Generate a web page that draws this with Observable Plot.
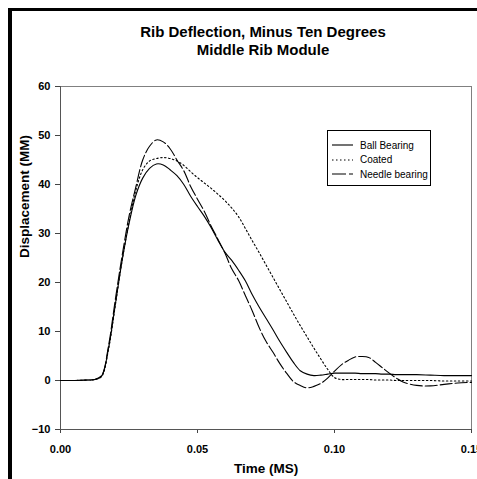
<!DOCTYPE html>
<html>
<head>
<meta charset="utf-8">
<script src="https://cdn.jsdelivr.net/npm/d3@7"></script>
<script src="https://cdn.jsdelivr.net/npm/@observablehq/plot@0.6"></script>
<style>
  html, body { margin: 0; padding: 0; background: #fff; }
  #wrap { position: relative; width: 477px; height: 479px; overflow: hidden; background: #fff; }
  #border { position: absolute; left: 8px; top: 8px; width: 480px; height: 480px; border-left: 4px solid #000; border-top: 3px solid #000; box-sizing: border-box; pointer-events: none; }
  #legend { position: absolute; left: 327px; top: 130px; width: 104px; height: 56px; border: 1px solid #000; box-sizing: border-box; background: #fff; font-family: "Liberation Sans", Arial, sans-serif; font-size: 10px; }
  #legend .row { position: absolute; left: 4px; height: 12px; display: flex; align-items: center; }
  #legend .row svg { display: block; margin-right: 7px; }
  svg { overflow: visible; }
</style>
</head>
<body>
<div id="wrap">
  <div id="chart"></div>
  <div id="legend"></div>
  <div id="border"></div>
</div>
<script>
const titleLines = ["Rib Deflection, Minus Ten Degrees", "Middle Rib Module"];
const xLabel = "Time (MS)";
const yLabel = "Displacement (MM)";
const seriesNames = ["Ball Bearing", "Coated", "Needle bearing"];
const seriesDash = ["none", "1.5,2.5", "12,3"];
const xTicks = [0, 0.05, 0.10, 0.15];
const yTicks = [-10, 0, 10, 20, 30, 40, 50, 60];

const time = [0, 0.005, 0.01, 0.0125, 0.015, 0.0175, 0.02, 0.0225, 0.025, 0.0275,
  0.03, 0.0325, 0.035, 0.0375, 0.04, 0.0425, 0.045, 0.0475, 0.05, 0.0525,
  0.055, 0.0575, 0.06, 0.0625, 0.065, 0.0675, 0.07, 0.0725, 0.075, 0.0775,
  0.08, 0.0825, 0.085, 0.0875, 0.09, 0.0925, 0.095, 0.0975, 0.1, 0.1025,
  0.105, 0.1075, 0.11, 0.1125, 0.115, 0.1175, 0.12, 0.1225, 0.125, 0.13,
  0.135, 0.14, 0.145, 0.15];

const ballBearing = [0, 0, 0.1, 0.2, 0.9, 6.5, 15.5, 24.5, 32.0, 37.8,
  41.3, 43.3, 44.2, 44.0, 43.0, 41.8, 40.0, 37.6, 35.5, 33.5,
  31.2, 28.6, 26.2, 24.5, 22.5, 20.3, 17.5, 15.0, 12.7, 10.4,
  8.0, 5.8, 3.7, 2.0, 1.3, 1.0, 1.1, 1.3, 1.5, 1.5,
  1.5, 1.5, 1.4, 1.4, 1.4, 1.3, 1.3, 1.2, 1.2, 1.2,
  1.1, 1.0, 1.0, 1.0];

const coated = [0, 0, 0.1, 0.2, 0.8, 6.3, 15.3, 24.5, 32.3, 38.8,
  43.0, 44.8, 45.3, 45.5, 45.3, 44.8, 43.9, 42.6, 41.4, 40.3,
  39.2, 38.0, 36.7, 35.2, 33.4, 31.0, 28.5, 26.1, 23.6, 21.1,
  18.6, 16.1, 13.6, 11.2, 8.9, 6.6, 4.4, 2.3, 0.6, 0.2,
  0.2, 0.2, 0.2, 0.2, 0.1, 0.1, 0.1, 0.0, 0.0, 0.0,
  0.0, -0.1, -0.1, -0.1];

const needleBearing = [0, 0, 0.1, 0.2, 1.0, 7.0, 16.5, 25.5, 33.5, 39.5,
  45.0, 47.8, 49.1, 48.7, 47.3, 45.0, 42.8, 39.6, 37.0, 34.5,
  31.5, 28.8, 26.0, 22.8, 20.4, 17.3, 14.2, 10.8, 8.0, 5.8,
  3.5, 1.5, -0.2, -1.0, -1.5, -1.2, -0.6, 0.5, 1.9, 3.2,
  4.1, 4.8, 4.9, 4.7, 3.7, 2.6, 1.5, 0.5, -0.3, -1.0,
  -1.1, -0.8, -0.5, -0.4];

const seriesValues = [ballBearing, coated, needleBearing];
const rows = seriesValues.map((vals, k) => time.map((t, i) => ({t, v: vals[i], s: seriesNames[k]})));

const font = '"Liberation Sans", Arial, sans-serif';

const chart = Plot.plot({
  width: 477,
  height: 479,
  marginTop: 86,
  marginLeft: 60,
  marginRight: 6,
  marginBottom: 50,
  style: {fontFamily: font, fontSize: "11px", fontWeight: "bold", background: "#fff", color: "#000"},
  x: {domain: [0, 0.15]},
  y: {domain: [-10, 60]},
  marks: [
    Plot.frame({stroke: "#808080", strokeWidth: 1}),
    Plot.axisX({ticks: xTicks, tickFormat: d3.format(".2f"), tickSize: 4, tickPadding: 12, label: null, stroke: "#444"}),
    Plot.axisY({ticks: yTicks, tickSize: 5, tickPadding: 5, label: null, stroke: "#444"}),
    Plot.ruleX([0], {stroke: "#555"}),
    Plot.ruleY([-10], {stroke: "#555"}),
    ...rows.map((r, k) => Plot.line(r, {x: "t", y: "v", stroke: "#000", strokeWidth: 1.1, strokeDasharray: seriesDash[k], curve: "catmull-rom"})),
    Plot.text([titleLines[0]], {frameAnchor: "top", dx: -3, dy: -60, fontSize: 15, fontWeight: "bold"}),
    Plot.text([titleLines[1]], {frameAnchor: "top", dx: -3, dy: -42, fontSize: 15, fontWeight: "bold"}),
    Plot.text([xLabel], {frameAnchor: "bottom", dy: 43, fontSize: 13.5, fontWeight: "bold"}),
    Plot.text([yLabel], {frameAnchor: "left", dx: -35.5, rotate: -90, fontSize: 13.5, fontWeight: "bold"})
  ]
});
document.getElementById("chart").appendChild(chart);

// legend
const legend = document.getElementById("legend");
seriesNames.forEach((name, k) => {
  const row = document.createElement("div");
  row.className = "row";
  row.style.top = (8 + k * 14.5) + "px";
  const ns = "http://www.w3.org/2000/svg";
  const s = document.createElementNS(ns, "svg");
  s.setAttribute("width", 21);
  s.setAttribute("height", 4);
  const ln = document.createElementNS(ns, "line");
  ln.setAttribute("x1", 0); ln.setAttribute("x2", 21);
  ln.setAttribute("y1", 2); ln.setAttribute("y2", 2);
  ln.setAttribute("stroke", "#000");
  ln.setAttribute("stroke-width", 1.1);
  if (seriesDash[k] !== "none") ln.setAttribute("stroke-dasharray", k === 2 ? "14,3" : seriesDash[k]);
  s.appendChild(ln);
  const label = document.createElement("span");
  label.textContent = name;
  row.appendChild(s);
  row.appendChild(label);
  legend.appendChild(row);
});
</script>
</body>
</html>
